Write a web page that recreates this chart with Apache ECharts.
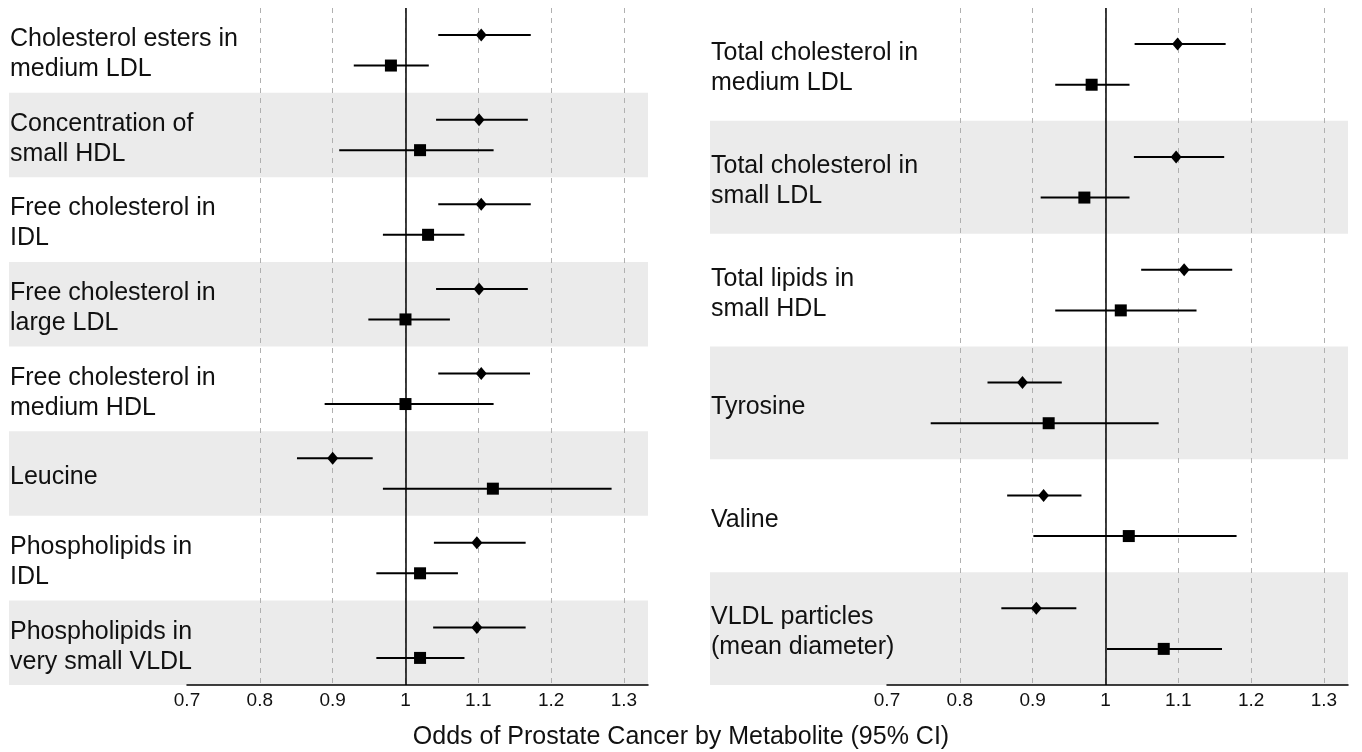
<!DOCTYPE html>
<html>
<head>
<meta charset="utf-8">
<script src="https://cdn.jsdelivr.net/npm/echarts@6/dist/echarts.min.js"></script>
<style>
html,body{margin:0;padding:0;background:#fff;}
#chart{width:1362px;height:752px;}
</style>
</head>
<body>
<div id="chart"></div>
<script>
// left panel
var leftNames = [
  'Cholesterol esters in\nmedium LDL',
  'Concentration of\nsmall HDL',
  'Free cholesterol in\nIDL',
  'Free cholesterol in\nlarge LDL',
  'Free cholesterol in\nmedium HDL',
  'Leucine',
  'Phospholipids in\nIDL',
  'Phospholipids in\nvery small VLDL'
];
var leftDiamond   = [1.104, 1.101, 1.104, 1.101, 1.104, 0.900, 1.098, 1.098];
var leftDiamondLo = [1.045, 1.042, 1.045, 1.042, 1.045, 0.851, 1.039, 1.038];
var leftDiamondHi = [1.172, 1.168, 1.172, 1.168, 1.171, 0.955, 1.165, 1.165];
var leftSquare    = [0.980, 1.020, 1.031, 1.000, 1.000, 1.120, 1.020, 1.020];
var leftSquareLo  = [0.929, 0.909, 0.969, 0.949, 0.889, 0.969, 0.960, 0.960];
var leftSquareHi  = [1.032, 1.121, 1.081, 1.061, 1.121, 1.283, 1.072, 1.081];

// right panel
var rightNames = [
  'Total cholesterol in\nmedium LDL',
  'Total cholesterol in\nsmall LDL',
  'Total lipids in\nsmall HDL',
  'Tyrosine',
  'Valine',
  'VLDL particles\n(mean diameter)'
];
var rightDiamond   = [1.099, 1.097, 1.108, 0.886, 0.915, 0.905];
var rightDiamondLo = [1.040, 1.039, 1.049, 0.838, 0.865, 0.857];
var rightDiamondHi = [1.165, 1.163, 1.174, 0.940, 0.967, 0.960];
var rightSquare    = [0.981, 0.971, 1.021, 0.922, 1.032, 1.080];
var rightSquareLo  = [0.931, 0.911, 0.931, 0.760, 0.901, 1.002];
var rightSquareHi  = [1.033, 1.033, 1.125, 1.073, 1.180, 1.160];

// x axis
var xMin = 0.7, xMax = 1.333, xStep = 0.1, refLine = 1;

var chart = echarts.init(document.getElementById('chart'));
var font = 'Liberation Sans, Arial, sans-serif';
var grids = [], xAxes = [], yAxes = [], series = [];

function addPanel(names, d, dLo, dHi, s, sLo, sHi, bandLeft, plotLeft, plotRight) {
  var n = names.length;
  var g = grids.length;
  // band grid (also holds the row labels)
  grids.push({left: bandLeft, width: plotRight - bandLeft, top: 8, bottom: 67});
  // plot grid
  grids.push({left: plotLeft, width: plotRight - plotLeft, top: 8, bottom: 67});

  var bx = xAxes.length;
  xAxes.push({gridIndex: g, type: 'value', min: 0, max: 1, show: false});
  xAxes.push({
    gridIndex: g + 1, type: 'value', min: xMin, max: xMax, interval: xStep, position: 'bottom',
    axisLine: {show: true, onZero: false, lineStyle: {color: '#000', width: 1.5}},
    axisTick: {show: false},
    axisLabel: {margin: 6, fontSize: 19, color: '#111', fontFamily: font, showMaxLabel: false},
    splitLine: {show: true, showMinLine: false, showMaxLine: false,
      lineStyle: {color: '#b0b0b0', type: [5, 5], width: 1}}
  });

  var by = yAxes.length;
  yAxes.push({gridIndex: g, type: 'value', min: 0, max: n, inverse: true, show: false});
  yAxes.push({gridIndex: g + 1, type: 'value', min: 0, max: n, inverse: true, show: false});

  var bands = [], labels = [];
  for (var i = 0; i < n; i++) {
    if (i % 2 === 1) bands.push([0, i]);
    labels.push([0, i + 0.5]);
  }
  series.push({
    type: 'custom', xAxisIndex: bx, yAxisIndex: by, z: -5, silent: true,
    data: bands,
    renderItem: function (params, api) {
      var p0 = api.coord([0, api.value(1)]);
      var p1 = api.coord([1, api.value(1) + 1]);
      return {type: 'rect', shape: {x: p0[0], y: p0[1], width: p1[0] - p0[0], height: p1[1] - p0[1]},
        style: {fill: '#ebebeb'}};
    }
  });
  series.push({
    type: 'scatter', xAxisIndex: bx, yAxisIndex: by, silent: true, symbolSize: 0,
    itemStyle: {color: '#000', opacity: 1},
    data: labels,
    label: {
      show: true, position: 'right', distance: 0, offset: [1, 4], opacity: 1,
      formatter: function (p) { return names[p.dataIndex]; },
      fontSize: 25, lineHeight: 30, color: '#111', fontFamily: font
    }
  });

  var bars = [], dPts = [], sPts = [];
  for (var j = 0; j < n; j++) {
    bars.push([dLo[j], dHi[j], j + 0.32]);
    bars.push([sLo[j], sHi[j], j + 0.68]);
    dPts.push([d[j], j + 0.32]);
    sPts.push([s[j], j + 0.68]);
  }
  series.push({
    type: 'custom', xAxisIndex: bx + 1, yAxisIndex: by + 1, silent: true, z: 3,
    data: bars,
    renderItem: function (params, api) {
      var a = api.coord([api.value(0), api.value(2)]);
      var b = api.coord([api.value(1), api.value(2)]);
      return {type: 'line', shape: {x1: a[0], y1: a[1], x2: b[0], y2: b[1]},
        style: {stroke: '#000', lineWidth: 2}};
    },
    markLine: {
      silent: true, symbol: 'none', label: {show: false},
      lineStyle: {color: '#000', width: 1.5, type: 'solid'},
      data: [{xAxis: refLine}]
    }
  });
  series.push({
    type: 'scatter', xAxisIndex: bx + 1, yAxisIndex: by + 1, z: 4, silent: true,
    symbol: 'diamond', symbolSize: [11, 13], itemStyle: {color: '#000', opacity: 1},
    data: dPts
  });
  series.push({
    type: 'scatter', xAxisIndex: bx + 1, yAxisIndex: by + 1, z: 4, silent: true,
    symbol: 'rect', symbolSize: 12, itemStyle: {color: '#000', opacity: 1},
    data: sPts
  });
}

addPanel(leftNames, leftDiamond, leftDiamondLo, leftDiamondHi,
  leftSquare, leftSquareLo, leftSquareHi, 9, 187, 648);
addPanel(rightNames, rightDiamond, rightDiamondLo, rightDiamondHi,
  rightSquare, rightSquareLo, rightSquareHi, 710, 887, 1348);

chart.setOption({
  backgroundColor: '#fff',
  animation: false,
  title: {
    text: 'Odds of Prostate Cancer by Metabolite (95% CI)',
    left: 'center', top: 720,
    textStyle: {fontSize: 25, fontWeight: 'normal', color: '#111', fontFamily: font}
  },
  grid: grids,
  xAxis: xAxes,
  yAxis: yAxes,
  series: series
});
</script>
</body>
</html>
